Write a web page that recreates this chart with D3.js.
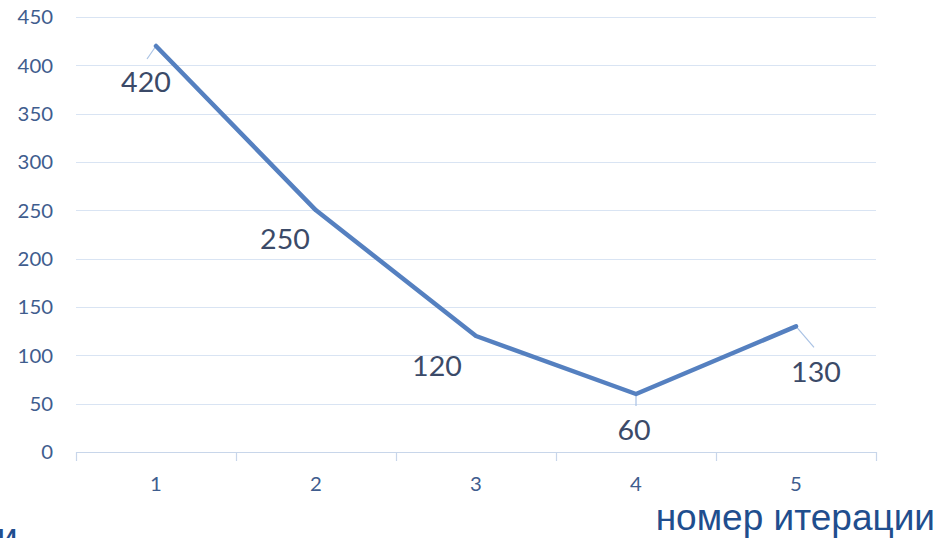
<!DOCTYPE html>
<html>
<head>
<meta charset="utf-8">
<script src="https://cdn.jsdelivr.net/npm/d3@7"></script>
<style>
  html, body { margin: 0; padding: 0; background: #ffffff; }
  svg { display: block; }
</style>
</head>
<body>
<svg id="chart" width="941" height="538"></svg>
<script>
// Iteration number and the value reached at each iteration
const iterations = [1, 2, 3, 4, 5];
const values = [420, 250, 120, 60, 130];
const yTicks = [0, 50, 100, 150, 200, 250, 300, 350, 400, 450];
const axisTitle = "номер итерации";

// Offsets of each value label from its point [dx, dy] and whether it has a leader line
const labelOffsets = [[-10, 46], [-31, 39], [-39, 40], [-2, 46], [20, 56]];
const leaders = [[-9, 13], null, null, [0, 12], [18, 21]];

const svg = d3.select("#chart");
const W = 941, H = 538;
svg.append("rect").attr("width", W).attr("height", H).attr("fill", "#ffffff");

const plot = { left: 76, right: 876, top: 17, bottom: 452 };

const x = d3.scaleBand().domain(iterations).range([plot.left, plot.right]);
const y = d3.scaleLinear().domain([0, 450]).range([plot.bottom, plot.top]);
const cx = d => x(d) + x.bandwidth() / 2;

const textFont = "Lato, 'Open Sans', sans-serif";
const sxTick = 1.1, sxLabel = 1.06;

// Horizontal gridlines
svg.append("g")
  .selectAll("line")
  .data(yTicks.filter(t => t > 0))
  .join("line")
  .attr("x1", plot.left).attr("x2", plot.right)
  .attr("y1", d => Math.round(y(d)) + 0.5).attr("y2", d => Math.round(y(d)) + 0.5)
  .attr("stroke", "#d9e4f3").attr("stroke-width", 1.2);

// Y axis labels
const yAxis = svg.append("g")
  .attr("transform", `translate(${plot.left},0)`)
  .call(d3.axisLeft(y).tickValues(yTicks).tickSize(0).tickPadding(23));
yAxis.select(".domain").remove();
yAxis.selectAll("text")
  .attr("font-family", textFont)
  .attr("font-size", 18.5)
  .attr("fill", "#3f5d8e")
  .attr("dy", "0.36em")
  .attr("x", -23 / sxTick)
  .attr("transform", `scale(${sxTick},1)`);

// X axis: baseline, category boundary ticks and labels
const xAxisG = svg.append("g").attr("transform", `translate(0,${plot.bottom})`);
xAxisG.append("line")
  .attr("x1", plot.left).attr("x2", plot.right)
  .attr("y1", 0.5).attr("y2", 0.5)
  .attr("stroke", "#c8d6ea").attr("stroke-width", 1.2);
const bounds = iterations.map(d => x(d)).concat([plot.right]);
xAxisG.selectAll("line.tick")
  .data(bounds)
  .join("line")
  .attr("class", "tick")
  .attr("x1", d => Math.round(d) + 0.5).attr("x2", d => Math.round(d) + 0.5)
  .attr("y1", 0).attr("y2", 9)
  .attr("stroke", "#c8d6ea").attr("stroke-width", 1.2);
xAxisG.selectAll("text")
  .data(iterations)
  .join("text")
  .attr("transform", d => `translate(${cx(d)},39) scale(${sxTick},1)`)
  .attr("text-anchor", "middle")
  .attr("font-family", textFont)
  .attr("font-size", 18.5)
  .attr("fill", "#3f5d8e")
  .text(d => d);

// Leader lines from points to their labels
svg.append("g")
  .selectAll("line")
  .data(iterations.map((d, i) => ({ d, v: values[i], l: leaders[i] })).filter(o => o.l))
  .join("line")
  .attr("x1", o => cx(o.d)).attr("y1", o => y(o.v))
  .attr("x2", o => cx(o.d) + o.l[0]).attr("y2", o => y(o.v) + o.l[1])
  .attr("stroke", "#a9c2e4").attr("stroke-width", 1.2);

// Data line
const line = d3.line()
  .x((d, i) => cx(iterations[i]))
  .y(d => y(d));
svg.append("path")
  .datum(values)
  .attr("d", line)
  .attr("fill", "none")
  .attr("stroke", "#5580c0")
  .attr("stroke-width", 4.5)
  .attr("stroke-linejoin", "round")
  .attr("stroke-linecap", "round");

// Value labels
svg.append("g")
  .selectAll("text")
  .data(values)
  .join("text")
  .attr("transform", (v, i) => `translate(${cx(iterations[i]) + labelOffsets[i][0]},${y(v) + labelOffsets[i][1]}) scale(${sxLabel},1)`)
  .attr("text-anchor", "middle")
  .attr("font-family", textFont)
  .attr("font-size", 27)
  .attr("fill", "#3b4a68")
  .text(v => v);

// Slide text around the chart
const titleFont = "'Liberation Sans', Arial, sans-serif";
svg.append("text")
  .attr("x", 935).attr("y", 530)
  .attr("text-anchor", "end")
  .attr("font-family", titleFont)
  .attr("font-size", 37)
  .attr("fill", "#1f4e8e")
  .text(axisTitle);
svg.append("text")
  .attr("x", -3).attr("y", 549)
  .attr("font-family", titleFont)
  .attr("font-size", 37)
  .attr("fill", "#1f4e8e")
  .text("и");
</script>
</body>
</html>
